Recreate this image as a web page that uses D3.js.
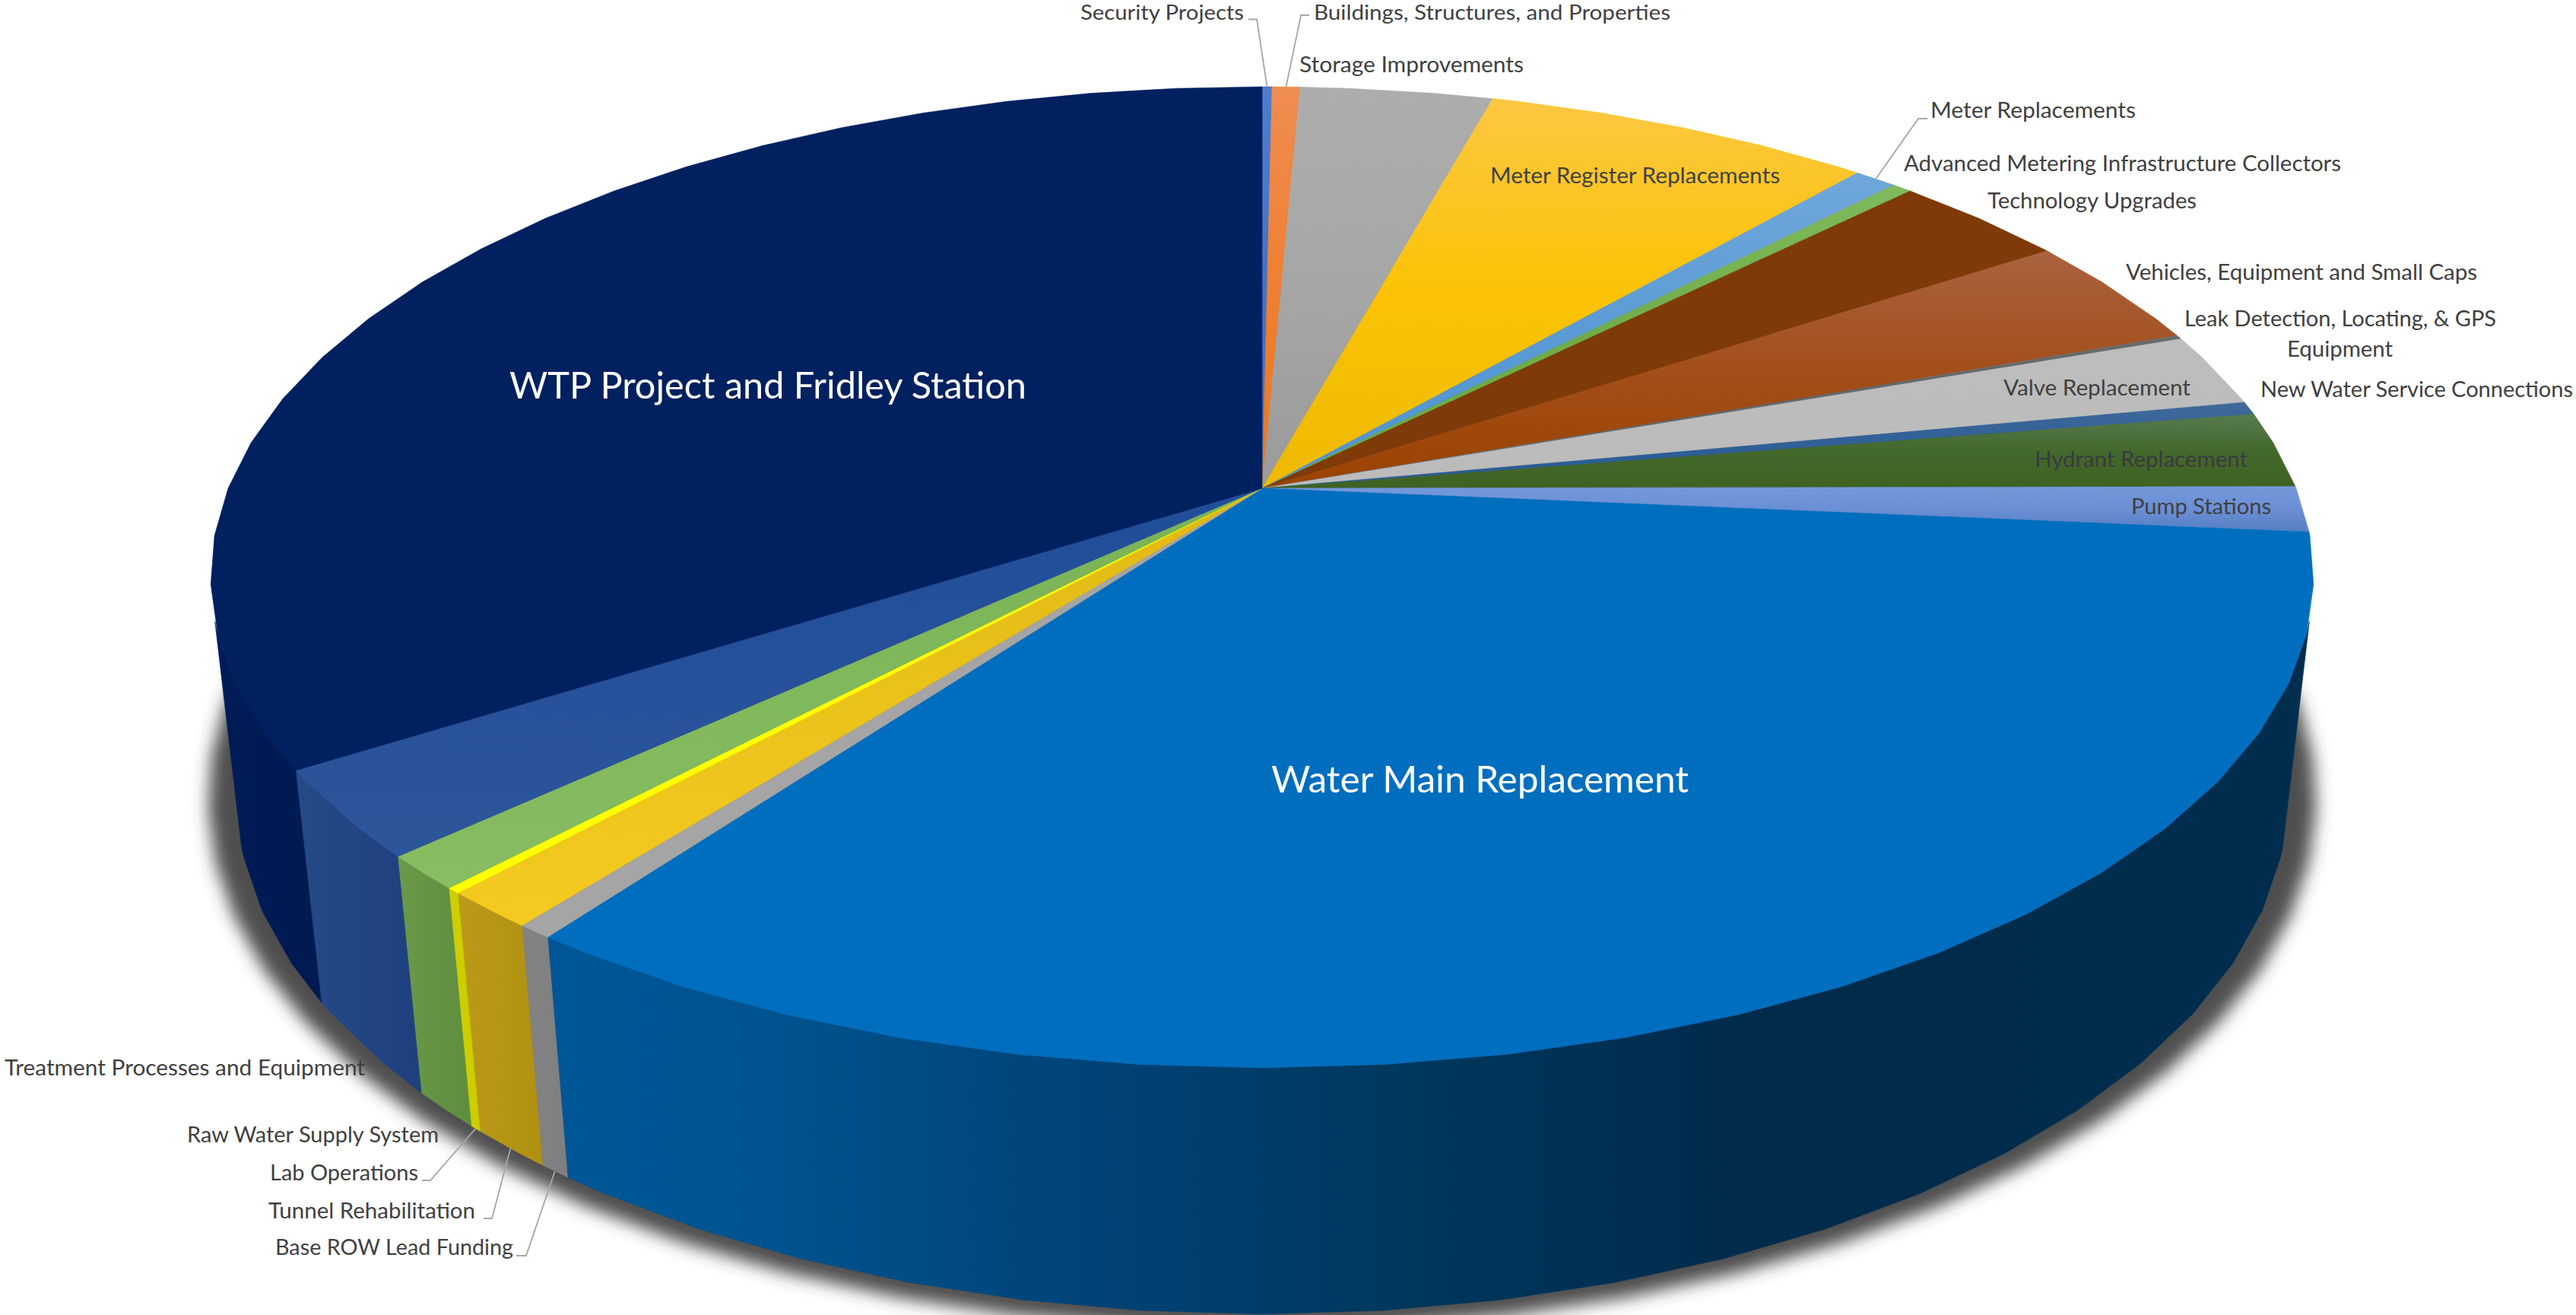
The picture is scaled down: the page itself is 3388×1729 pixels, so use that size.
<!DOCTYPE html>
<html>
<head>
<meta charset="utf-8">
<script src="https://cdnjs.cloudflare.com/ajax/libs/d3/7.8.5/d3.min.js"></script>
<style>html,body{margin:0;padding:0;background:#fff;overflow:hidden}</style>
</head>
<body>
<svg id="chart" width="3388" height="1729" xmlns="http://www.w3.org/2000/svg"></svg>
<script>
// ---- data (share of budget, %, clockwise from 12 o'clock)
const categories = ["Security Projects","Buildings, Structures, and Properties","Storage Improvements","Meter Register Replacements","Meter Replacements","Advanced Metering Infrastructure Collectors","Technology Upgrades","Vehicles, Equipment and Small Caps","Leak Detection, Locating, & GPS Equipment","Valve Replacement","New Water Service Connections","Hydrant Replacement","Pump Stations","Water Main Replacement","Base ROW Lead Funding","Tunnel Rehabilitation","Lab Operations","Raw Water Supply System","Treatment Processes and Equipment","WTP Project and Fridley Station"];
const values = [0.18,0.51,3.53,7.14,0.78,0.36,3.22,3.72,0.14,2.42,0.43,2.51,1.50,33.60,0.47,1.25,0.19,1.14,2.89,34.02];

// ---- top-face colours (outer edge, middle, apex)
const topStops = [
 ["#4F7CCB","#4472C4","#4472C4"],["#EF8C52","#F07F31","#EA7720"],["#ADADAD","#A6A6A6","#9A9A9A"],
 ["#FCC743","#FBC304","#EDB900"],["#6FA7DB","#5B9BD5","#4D93D4"],["#7FBA5C","#70AD47","#6BA840"],
 ["#7E3A08","#7E3A08","#7E3A08"],["#AA6240","#A34F1A","#9B4200"],["#6A6A6A","#666666","#666666"],
 ["#BDBDBD","#BCBCBC","#BBBBBB"],["#41699A","#2F6096","#245A96"],["#587A50","#43682B","#3F6222"],
 ["#7598DB","#6A8FD5","#557DC2"],["#006EBF","#006EBF","#006EBF"],["#A5A5A5","#A5A5A5","#A5A5A5"],
 ["#E0B814","#EAC31A","#F5CA20"],["#FFFF00","#FFFF00","#FFFF00"],["#7AB356","#80B85C","#88BD62"],
 ["#214E99","#26509A","#2D569A"],["#002060","#002060","#002060"]
];
// ---- side-wall colours, left to right (stop offset as x on the page)
const sideStops = [
 [],[],[],[],[],[],[],[],[],[],[],[],[],
 [[747,"#005696"],[1000,"#00538F"],[1200,"#004C84"],[1400,"#00447A"],[1600,"#003E6E"],[1800,"#00385F"],[2000,"#003358"],[2300,"#002B4B"],[3043,"#002D4E"]],
 [[700,"#828282"],[760,"#7E7E7E"]],
 [[590,"#BB9B18"],[720,"#B09010"]],
 [[570,"#CFCF00"],[640,"#CCCC00"]],
 [[520,"#6A9A4A"],[610,"#5F8F3E"]],
 [[390,"#264A87"],[560,"#1E3F7E"]],
 [[270,"#001C58"],[430,"#001A50"]]
];
const sideVisible = [105.5, 254.5]; // wall is only seen between these clock angles (deg)

// ---- label layout [index, left x, width, centre y]
const labelLayout = [
 [0,1421,215,17],[1,1728,469,17],[2,1709,295,85],[3,1960,381,231],[4,2539,270,145],[5,2504,575,215],
 [6,2614,275,264],[7,2796,462,358],[9,2635,246,510],[10,2973,411,512],[11,2676,280,604],[12,2803,184,666],
 [14,362,313,1640],[15,353,272,1592],[16,355,195,1542],[17,246,331,1492],[18,6,474,1404]
];
const extraLines = [["Leak Detection, Locating, & GPS",2873,410,419],["Equipment",3008,139,459]];
const bigLabels = [[19,670,680,507],[13,1672,549,1025]];
const bigLabelColor = "#FFFFFF", labelColor = "#404040", hydrantLabelColor = "#3A3A42";
// ---- leaders [index, rim ('top'|'bottom'), tail x, elbow x, elbow y]
const leaders = [
 [0,"top",1642,1653,25.5],[1,"top",1722,1711,20],[4,"top",2535,2523,156],
 [16,"bottom",555,566,1552],[15,"bottom",636,647,1602],[14,"bottom",679,692,1651]
];

// ---- perspective model of the disc
const apex = {x:1660,y:642}, ax = 1360, by = 623.8, persp = 0.1814;
const vanish = {x:1660,y:12500}, thick = 0.0246, FACETS = 64;

const svg = d3.select("#chart");
const defs = svg.append("defs");
defs.append("filter").attr("id","shadowBlur").attr("x","-10%").attr("y","-10%").attr("width","120%").attr("height","120%")
  .append("feGaussianBlur").attr("stdDeviation",11);

function project(a){ // a in radians, clockwise from far point
  const w = 1 + persp*Math.cos(a);
  return {x:apex.x + ax*Math.sin(a)/w, y:apex.y - by*Math.cos(a)/w, w};
}
function drop(a){ // matching point on the bottom rim
  const p = project(a), t = thick/(p.w+thick);
  return {x:p.x+t*(vanish.x-p.x), y:p.y+t*(vanish.y-p.y)};
}
function rimAngles(a0,a1){
  const step = 2*Math.PI/FACETS, out=[a0];
  for(let k=Math.ceil(a0/step+1e-6);k*step<a1-1e-6;k++) out.push(k*step);
  out.push(a1);
  return out;
}
const line = d3.line().x(d=>d.x).y(d=>d.y);

const pie = d3.pie().sort(null).value(d=>d).startAngle(0).endAngle(2*Math.PI);
const arcs = pie(values).map((d,i)=>({...d,i,name:categories[i]}));

// shadow
const bottomRim = rimAngles(0,2*Math.PI).map(drop);
const bx = d3.mean(d3.extent(bottomRim,d=>d.x)), bY = d3.mean(d3.extent(bottomRim,d=>d.y));
svg.append("path")
  .attr("d",line(bottomRim.map(p=>({x:bx+(p.x-bx)*1.028,y:bY+(p.y-bY)*1.025+4})))+"Z")
  .attr("fill","#3c3c3c").attr("fill-opacity",0.9).attr("filter","url(#shadowBlur)");

// gradients
arcs.forEach(d=>{
  const g = defs.append("linearGradient").attr("id","top"+d.i).attr("x1",0).attr("x2",0).attr("y1",0).attr("y2",1);
  topStops[d.i].forEach((c,k)=>g.append("stop").attr("offset",k/2).attr("stop-color",c));
  const s = sideStops[d.i];
  if(s.length){
    const x0=s[0][0], x1=s[s.length-1][0];
    const sg = defs.append("linearGradient").attr("id","side"+d.i).attr("gradientUnits","userSpaceOnUse")
      .attr("x1",x0).attr("x2",x1).attr("y1",0).attr("y2",0);
    s.forEach(([x,c])=>sg.append("stop").attr("offset",(x-x0)/(x1-x0)).attr("stop-color",c));
  }
});

// side walls
const lo = sideVisible[0]*Math.PI/180, hi = sideVisible[1]*Math.PI/180;
svg.append("g").selectAll("path")
  .data(arcs.filter(d=>sideStops[d.i].length))
  .join("path")
  .attr("d",d=>{
    const a0=Math.max(d.startAngle,lo), a1=Math.min(d.endAngle,hi);
    const as=rimAngles(a0,a1);
    return line(as.map(project).concat(as.slice().reverse().map(drop)))+"Z";
  })
  .attr("fill",d=>`url(#side${d.i})`)
  .attr("stroke",d=>`url(#side${d.i})`).attr("stroke-width",0.6);

// top faces
svg.append("g").selectAll("path")
  .data(arcs).join("path")
  .attr("d",d=>line([apex].concat(rimAngles(d.startAngle,d.endAngle).map(project)))+"Z")
  .attr("fill",d=>`url(#top${d.i})`)
  .attr("stroke",d=>topStops[d.i][1]).attr("stroke-width",0.5).attr("stroke-linejoin","round");

// leaders
svg.append("g").selectAll("polyline").data(leaders).join("polyline")
  .attr("points",([i,rim,tx,ex,ey])=>{
    const mid=(arcs[i].startAngle+arcs[i].endAngle)/2;
    const p= rim==="top"?project(mid):drop(mid);
    return `${tx},${ey} ${ex},${ey} ${p.x},${p.y}`;
  })
  .attr("fill","none").attr("stroke","#A6A6A6").attr("stroke-width",1.8);

// labels
const font = "Lato, Carlito, sans-serif";
function put(text,x,w,y,size,color){
  svg.append("text").attr("x",x).attr("y",y).attr("dy","0.35em")
    .attr("font-family",font).attr("font-size",size).attr("fill",color)
    .attr("textLength",w).attr("lengthAdjust","spacingAndGlyphs").text(text);
}
labelLayout.forEach(([i,x,w,y])=>put(categories[i],x,w,y,i<2?27:28,i===11?hydrantLabelColor:labelColor));
extraLines.forEach(([t,x,w,y])=>put(t,x,w,y,28,labelColor));
bigLabels.forEach(([i,x,w,y])=>put(categories[i],x,w,y,49,bigLabelColor));
</script>
</body>
</html>
